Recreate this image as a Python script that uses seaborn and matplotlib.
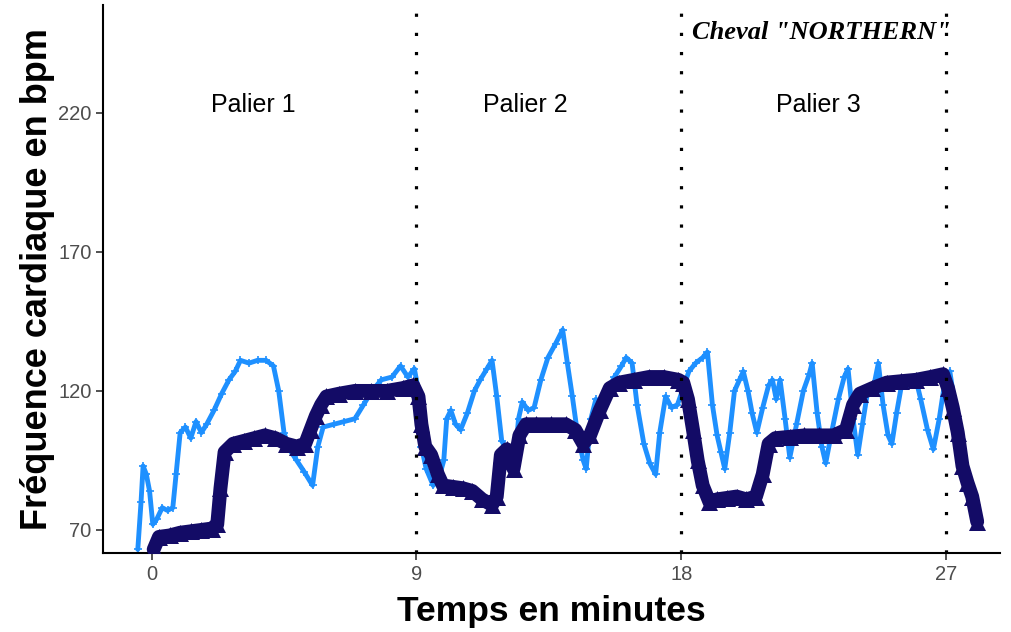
import numpy as np
import pandas as pd
import matplotlib
matplotlib.use("Agg")
import matplotlib.pyplot as plt
import seaborn as sns

# heart rate, dark series (triangles), time in minutes
dark_t = [0.07, 0.25, 0.61, 0.97, 1.33, 1.69, 2.05, 2.23, 2.34, 2.48, 2.77, 3.13, 3.49, 3.85,
          4.21, 4.57, 4.93, 5.22, 5.40, 5.58, 5.76, 5.94, 6.37, 6.91, 7.45, 7.99, 8.53, 8.89,
          9.07, 9.17, 9.30, 9.50, 9.73, 9.90, 10.23, 10.57, 10.90, 11.23, 11.57, 11.73, 11.87,
          12.07, 12.30, 12.50, 12.73, 13.07, 13.57, 14.07, 14.40, 14.67, 14.90, 15.23, 15.57,
          15.90, 16.40, 16.90, 17.40, 17.90,
          18.07, 18.23, 18.40, 18.56, 18.73, 18.96, 19.22, 19.55, 19.88, 20.21, 20.54, 20.77,
          20.97, 21.20, 21.69, 22.19, 22.68, 23.18, 23.60, 23.84, 24.07, 24.50, 24.99, 25.48,
          25.98, 26.47, 26.90, 27.07, 27.23, 27.40, 27.56, 27.73, 27.89, 28.06]
dark_hr = [63, 67.5, 68, 69, 69.5, 70, 70.5, 72, 85, 98, 101, 102, 103, 104,
           103, 101, 100, 101, 106, 111, 115, 118, 119, 120, 120, 120, 121, 122,
           118, 108, 100, 97, 90, 86, 85.5, 85, 84, 81, 79, 82, 97,
           99, 92, 104, 108, 108, 108, 108, 106, 101, 104, 113, 121,
           123, 124, 125, 125, 124,
           123, 117, 106, 95, 86, 80, 81, 81.5, 82, 81, 82, 90,
           101, 103, 103.5, 104, 104, 104, 106, 115, 119, 121, 123, 123.5,
           124, 125, 126, 121, 114, 105, 93, 87, 82, 73]

# heart rate, light series (crosses)
light_t = [-0.47, -0.36, -0.29, -0.18, -0.07, 0.04, 0.18, 0.36, 0.54, 0.72, 0.83, 0.97, 1.15,
           1.33, 1.51, 1.69, 1.87, 2.12, 2.38, 2.63, 2.84, 3.02, 3.31, 3.60, 3.89, 4.14, 4.32,
           4.50, 4.68, 4.93, 5.18, 5.47, 5.65, 5.83, 6.19, 6.55, 6.91, 7.20, 7.49, 7.81, 8.17,
           8.46, 8.71, 8.93,
           9.07, 9.17, 9.33, 9.57, 9.80, 9.93, 10.03, 10.17, 10.33, 10.50, 10.73, 10.97, 11.17,
           11.40, 11.57, 11.73, 11.90, 12.07, 12.20, 12.33, 12.47, 12.60, 12.80, 13.00, 13.23,
           13.47, 13.73, 13.97, 14.13, 14.30, 14.47, 14.67, 14.77, 14.93, 15.10, 15.30, 15.50,
           15.73, 15.97, 16.13, 16.33, 16.50, 16.73, 16.93, 17.13, 17.27, 17.47, 17.67, 17.87,
           18.07, 18.26, 18.49, 18.73, 18.89, 19.06, 19.22, 19.35, 19.48, 19.65, 19.81, 19.98,
           20.11, 20.27, 20.41, 20.57, 20.77, 20.97, 21.10, 21.23, 21.36, 21.53, 21.69, 21.92,
           22.15, 22.35, 22.45, 22.62, 22.78, 22.91, 23.11, 23.34, 23.54, 23.67, 23.84, 24.00,
           24.16, 24.34, 24.53, 24.70, 24.86, 25.03, 25.16, 25.32, 25.52, 25.75, 25.98, 26.14,
           26.37, 26.57, 26.77, 26.97, 27.13, 27.30, 27.43]
light_hr = [63, 80, 93, 90, 84, 72, 74, 78, 77, 78, 90, 105, 107,
            103, 109, 105, 108, 113, 119, 124, 127, 131, 130, 131, 131, 129, 120,
            105, 99, 95, 91, 86, 100, 107, 108, 109, 110, 115, 120, 124, 125,
            129, 125, 128,
            120, 100, 92, 86, 90, 95, 110, 113, 108, 106, 112, 120, 124,
            128, 131, 118, 102, 99, 95, 93, 110, 116, 113, 114, 124,
            132, 137, 142, 130, 118, 105, 95, 92, 110, 117, 115, 120,
            125, 129, 132, 130, 115, 101, 94, 90, 105, 118, 114, 115,
            121, 127, 130, 132, 134, 115, 104, 98, 92, 105, 120, 124,
            127, 120, 112, 105, 114, 122, 124, 117, 124, 110, 96, 108,
            120, 126, 130, 112, 100, 94, 105, 117, 125, 128, 110, 97,
            108, 120, 121, 130, 115, 104, 101, 112, 124, 122, 124, 117,
            106, 99, 110, 124, 127, 115, 106]

palier_x = [3.45, 12.69, 22.65]
palier_labels = ["Palier 1", "Palier 2", "Palier 3"]
bornes = [9, 18, 27]

dark_col = "#130B66"
light_col = "#1E90FF"

sns.set_style("white")
plt.rcParams['font.family'] = ['Liberation Sans', 'DejaVu Sans']

fig, ax = plt.subplots(figsize=(10.12, 6.32), dpi=100)
fig.subplots_adjust(left=0.102, right=0.988, bottom=0.125, top=0.992)

sns.lineplot(x=light_t, y=light_hr, color=light_col, linewidth=3.5, ax=ax, zorder=2)
sns.scatterplot(x=light_t, y=light_hr, color=light_col, marker='+', s=40, linewidth=1.2, ax=ax, zorder=2)
sns.lineplot(x=dark_t, y=dark_hr, color=dark_col, linewidth=10, ax=ax, zorder=3)
sns.scatterplot(x=dark_t, y=dark_hr, color=dark_col, marker='^', s=150, linewidth=0, ax=ax, zorder=3)

for b in bornes:
    ax.axvline(b, color='black', linewidth=2.3, linestyle=(0, (1, 5)), zorder=4)

for px, lab in zip(palier_x, palier_labels):
    ax.text(px, 223, lab, ha='center', va='center', fontsize=18, color='black')

ax.text(22.75, 249, 'Cheval "NORTHERN"', ha='center', va='center', fontsize=19, color='black',
        family=['Liberation Serif', 'DejaVu Serif'], fontweight='bold', fontstyle='italic')

ax.set_xlim(-1.645, 28.83)
ax.set_ylim(61.7, 258.8)
ax.set_xticks([0, 9, 18, 27])
ax.set_yticks([70, 120, 170, 220])
ax.set_xlabel("Temps en minutes", fontsize=25.5, fontweight='bold', labelpad=8, color='black')
ax.set_ylabel("Fréquence cardiaque en bpm", fontsize=26, fontweight='bold', labelpad=2, color='black')
ax.tick_params(axis='both', labelsize=14.5, labelcolor='#4D4D4D', length=5, width=1.2,
               color='#333333', direction='out', bottom=True, left=True)
sns.despine(ax=ax)
for s in ['left', 'bottom']:
    ax.spines[s].set_linewidth(1.5)
    ax.spines[s].set_color('black')

plt.savefig("out.png", dpi=100)
